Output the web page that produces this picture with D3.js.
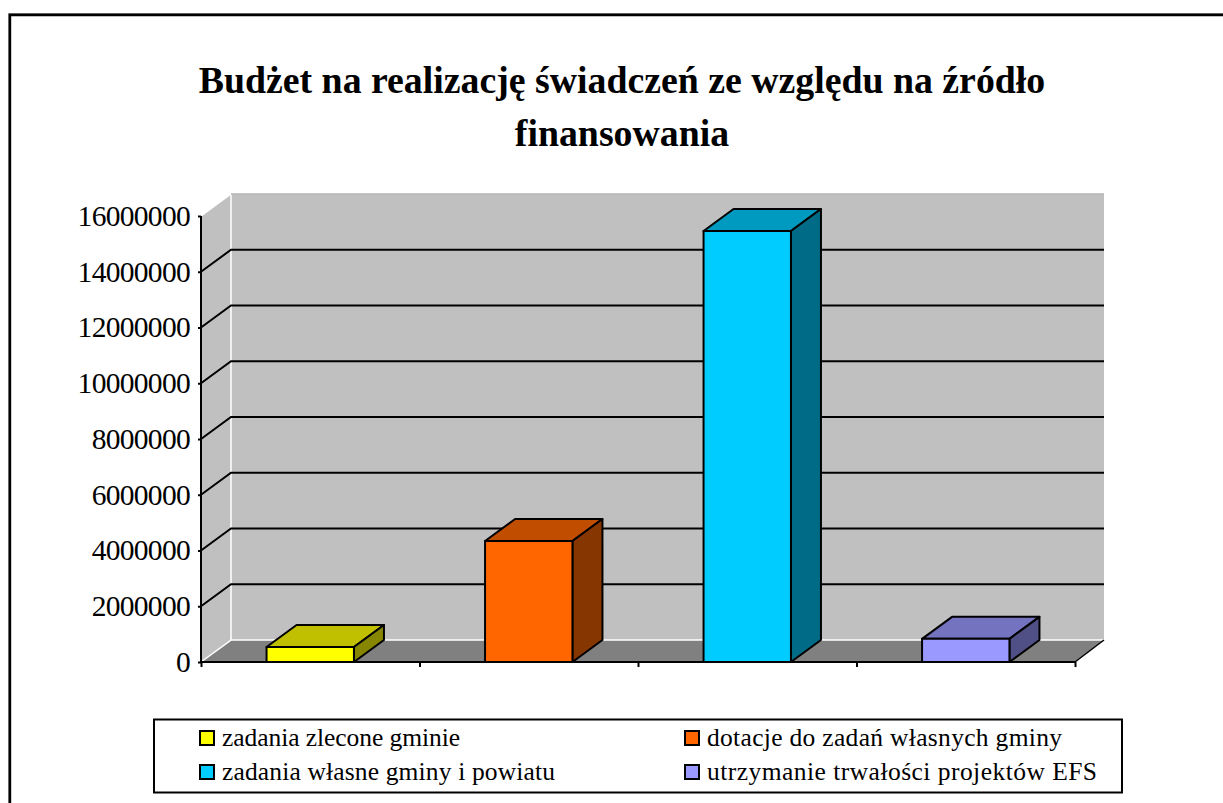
<!DOCTYPE html>
<html><head><meta charset="utf-8">
<style>html,body{margin:0;padding:0;background:#fff}svg{display:block}text{font-family:"Liberation Serif",serif;fill:#000}</style>
<script src="https://cdn.jsdelivr.net/npm/d3@7"></script></head><body><div id="c"></div>
<script>
const categories=["zadania zlecone gminie","dotacje do zadań własnych gminy","zadania własne gminy i powiatu","utrzymanie trwałości projektów EFS"];
const values=[540000,4340000,15460000,830000];
const frontColors=["#ffff00","#ff6600","#00ccff","#9999ff"];
const topColors=["#c0c000","#c04d00","#009ac0","#7373c0"];
const sideColors=["#868600","#863600","#006b86","#505086"];
const yTicks=[0,2000000,4000000,6000000,8000000,10000000,12000000,14000000,16000000];
const titleLines=["Budżet na realizację świadczeń ze względu na źródło","finansowania"];
const legendTextWidths=[238,355,333,390];

const W=1223,H=803,x0=201,x1=1075,yB=662,yT=216,dx=30,dy=22;
const svg=d3.select("#c").append("svg").attr("width",W).attr("height",H);
const y=d3.scaleLinear().domain([0,16000000]).range([yB,yT]);
const xb=d3.scaleBand().domain(categories).range([x0,x1]).paddingInner(0.6).paddingOuter(0.3);
const pts=a=>a.map(p=>p.join(",")).join(" ");
const xR=x1+dx-1;

// frame (open on the right and bottom)
svg.append("path").attr("d",`M8.5,${H} V13.5 H${W}`).attr("fill","none").attr("stroke","#808080").attr("stroke-width",1);
svg.append("path").attr("d",`M10,${H} V15 H${W}`).attr("fill","none").attr("stroke","#000").attr("stroke-width",2.4);
// title
svg.append("g").selectAll("text").data(titleLines).join("text").attr("x",622).attr("y",(d,i)=>93+i*53)
 .attr("text-anchor","middle").attr("font-size",37.8).attr("font-weight","bold").text(d=>d);

// walls
svg.append("polygon").attr("points",pts([[x0,yT],[x0+dx,yT-dy],[x0+dx,yB-dy],[x0,yB]])).attr("fill","#c0c0c0");
svg.append("rect").attr("x",x0+dx).attr("y",yT-dy).attr("width",xR-x0-dx).attr("height",yB-yT).attr("fill","#c0c0c0");
svg.append("polygon").attr("points",pts([[x0,yB],[x0+dx,yB-dy],[xR,yB-dy],[x1,yB]])).attr("fill","#808080");
// wall highlights
svg.append("path").attr("d",`M${x0},${yT} L${x0+dx},${yT-dy} M${x0+dx},${yT-dy} V${yB-dy} L${x0},${yB} M${x0+dx},${yB-dy} H${xR}`)
 .attr("fill","none").attr("stroke","#fff").attr("stroke-width",1.5);
svg.append("path").attr("d",`M${x0+dx},${yT-dy} H${xR}`).attr("stroke","#b4b4b4").attr("stroke-width",1.5);
// gridlines
svg.append("g").selectAll("path").data(yTicks.slice(1,-1)).join("path")
 .attr("d",d=>`M${x0},${y(d)} L${x0+dx},${y(d)-dy} H${xR}`).attr("fill","none").attr("stroke","#000").attr("stroke-width",2);
// floor right edge
svg.append("path").attr("d",`M${x1},${yB} L${xR},${yB-dy}`).attr("stroke","#000").attr("stroke-width",1.5);

// axes
const yAxis=d3.axisLeft(y).tickValues(yTicks).tickFormat(d3.format("d")).tickSize(3).tickPadding(8);
const gy=svg.append("g").attr("transform",`translate(${x0},0)`).call(yAxis);
gy.selectAll("path,line").attr("stroke","#000").attr("stroke-width",2);
gy.select(".domain").attr("d",`M0,${yT}V${yB}`);
gy.selectAll("text").attr("font-size",29.5).attr("letter-spacing",-0.7).attr("font-family","Liberation Serif").attr("fill","#000");
const xt=d3.scaleLinear().domain([0,categories.length]).range([x0,x1]);
const gx=svg.append("g").attr("transform",`translate(0,${yB})`).call(d3.axisBottom(xt).ticks(categories.length).tickFormat("").tickSize(5));
gx.selectAll("path,line").attr("stroke","#000").attr("stroke-width",2);
gx.select(".domain").attr("d",`M${x0},0H${x1}`);

// bars
const bars=svg.append("g").selectAll("g").data(categories).join("g");
const bw=xb.bandwidth();
bars.each(function(c,i){
 const g=d3.select(this),l=xb(c),r=l+bw,t=y(values[i]);
 const st={stroke:"#000","stroke-width":2,"stroke-linejoin":"round"};
 const add=(p,f)=>{const e=g.append("polygon").attr("points",pts(p)).attr("fill",f);for(const k in st)e.attr(k,st[k]);};
 add([[l,t],[l+dx,t-dy],[r+dx,t-dy],[r,t]],topColors[i]);
 add([[r,t],[r+dx,t-dy],[r+dx,yB-dy],[r,yB]],sideColors[i]);
 add([[l,t],[r,t],[r,yB],[l,yB]],frontColors[i]);
});

// legend
svg.append("rect").attr("x",154).attr("y",719.5).attr("width",968).attr("height",73).attr("fill","#fff").attr("stroke","#000").attr("stroke-width",2);
const cols=[200,685],rows=[739,773];
const lg=svg.append("g").selectAll("g").data(categories).join("g")
 .attr("transform",(d,i)=>`translate(${cols[i%2]},${rows[Math.floor(i/2)]})`);
lg.append("rect").attr("x",0).attr("y",-8).attr("width",14).attr("height",14).attr("fill",(d,i)=>frontColors[i]).attr("stroke","#000").attr("stroke-width",2);
lg.append("text").attr("x",22).attr("y",7).attr("font-size",25.5).attr("textLength",(d,i)=>legendTextWidths[i]).attr("lengthAdjust","spacing").text(d=>d);
</script></body></html>
